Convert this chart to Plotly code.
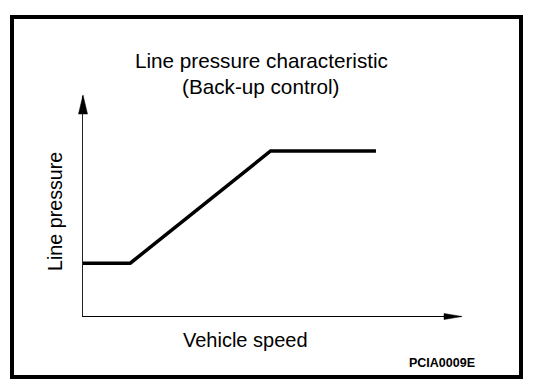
import plotly.graph_objects as go

# Data (arbitrary units)
vehicle_speed = [0.0, 1.0, 3.97, 6.2]
line_pressure = [2.4, 2.4, 7.5, 7.5]
x_range = [0, 8]
y_range = [0, 10]

title_line1 = "Line pressure characteristic"
title_line2 = "(Back-up control)"
x_label = "Vehicle speed"
y_label = "Line pressure"
figure_code = "PCIA0009E"

W, H = 560, 390
L, R, T, B = 83, 461, 96, 316  # plot area in pixels


def px(x):
    return (x - L) / (R - L)


def py(y):
    return (B - y) / (B - T)


FONT = "Liberation Sans, Arial, sans-serif"

fig = go.Figure()
fig.add_trace(go.Scatter(
    x=vehicle_speed, y=line_pressure, mode="lines",
    line=dict(color="black", width=3.5), hoverinfo="skip", showlegend=False,
))

fig.update_layout(
    width=W, height=H,
    margin=dict(l=L, r=W - R, t=T, b=H - B),
    paper_bgcolor="white", plot_bgcolor="white",
    xaxis=dict(range=x_range, showgrid=False, zeroline=False, showticklabels=False,
               ticks="", showline=True, linecolor="black", linewidth=1),
    yaxis=dict(range=y_range, showgrid=False, zeroline=False, showticklabels=False,
               ticks="", showline=True, linecolor="#222", linewidth=1),
    showlegend=False,
)

shapes = [
    # border
    dict(type="rect", xref="paper", yref="paper",
         x0=px(12), x1=px(521), y0=py(17), y1=py(377),
         line=dict(color="black", width=4), fillcolor="rgba(0,0,0,0)", layer="above"),
    # y-axis arrowhead
    dict(type="path", xref="paper", yref="paper",
         path=f"M{px(83)},{py(95)} L{px(78.5)},{py(114)} L{px(87.5)},{py(114)} Z",
         fillcolor="black", line=dict(color="black", width=0.5)),
    # x-axis arrowhead
    dict(type="path", xref="paper", yref="paper",
         path=f"M{px(462)},{py(316.5)} L{px(444)},{py(313.5)} L{px(444)},{py(319.5)} Z",
         fillcolor="black", line=dict(color="black", width=0.5)),
]
fig.update_layout(shapes=shapes)

annotations = [
    dict(text=title_line1, x=px(261), y=py(60), xref="paper", yref="paper",
         showarrow=False, font=dict(family=FONT, size=20.7, color="black"),
         xanchor="center", yanchor="middle"),
    dict(text=title_line2, x=px(261), y=py(87), xref="paper", yref="paper",
         showarrow=False, font=dict(family=FONT, size=20.7, color="black"),
         xanchor="center", yanchor="middle"),
    dict(text=x_label, x=px(245), y=py(340), xref="paper", yref="paper",
         showarrow=False, font=dict(family=FONT, size=20, color="black"),
         xanchor="center", yanchor="middle"),
    dict(text=y_label, x=px(55), y=py(212), xref="paper", yref="paper",
         showarrow=False, textangle=-90, font=dict(family=FONT, size=19.7, color="black"),
         xanchor="center", yanchor="middle"),
    dict(text=f"<b>{figure_code}</b>", x=px(442), y=py(363), xref="paper", yref="paper",
         showarrow=False, font=dict(family=FONT, size=12.5, color="black"),
         xanchor="center", yanchor="middle"),
]
fig.update_layout(annotations=annotations)

fig.write_html(
    "out.html",
    config={"displayModeBar": False},
    post_script="document.body.style.margin='0';",
)
